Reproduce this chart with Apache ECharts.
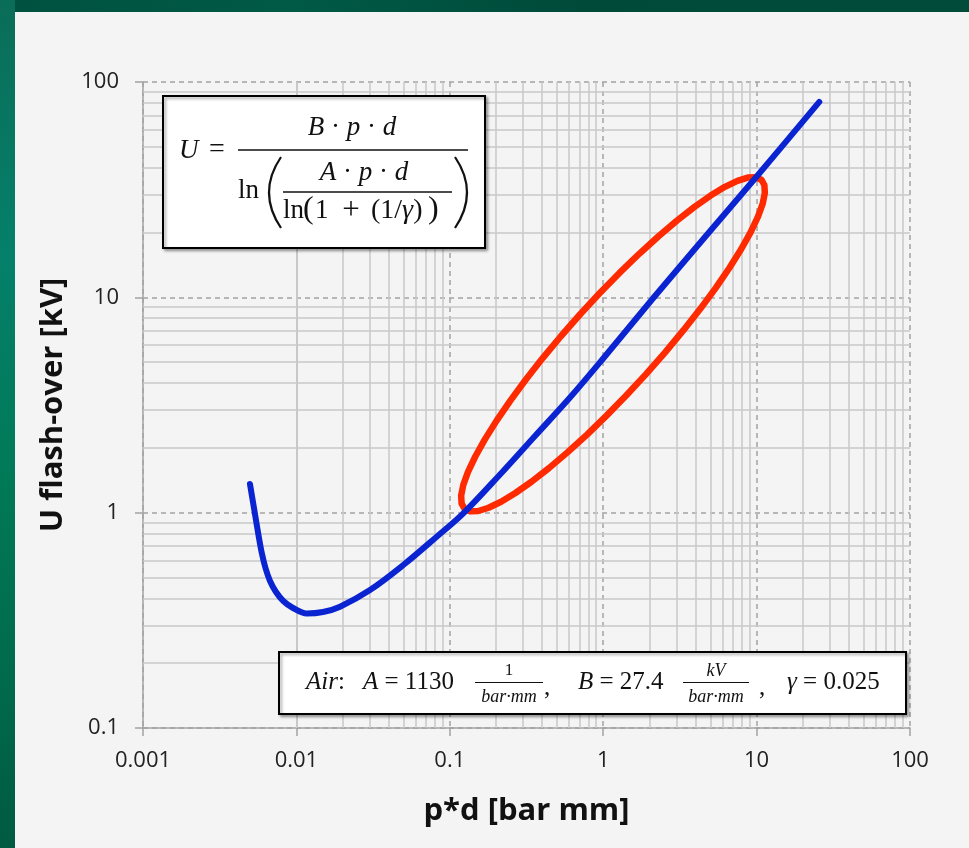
<!DOCTYPE html>
<html>
<head>
<meta charset="utf-8">
<title>Paschen curve for air</title>
<script src="https://cdn.jsdelivr.net/npm/echarts@6/dist/echarts.min.js"></script>
<style>
  html, body { margin: 0; padding: 0; width: 969px; height: 848px; overflow: hidden; background: #00553f; }
  #frameTop { position: absolute; left: 0; top: 0; width: 969px; height: 12px;
    background: linear-gradient(90deg, #00513f 0%, #005a46 30%, #004a3a 60%, #004b39 100%); }
  #frameLeft { position: absolute; left: 0; top: 0; width: 15px; height: 848px;
    background: linear-gradient(180deg, #0a6d58 0%, #05806a 30%, #007a58 55%, #006a4c 80%, #005a42 100%); }
  #panel { position: absolute; left: 15px; top: 12px; width: 954px; height: 836px; background: #f4f4f4; }
  #chart { position: absolute; left: 0; top: 0; width: 969px; height: 848px; }
</style>
</head>
<body>
<div id="frameTop"></div>
<div id="frameLeft"></div>
<div id="panel"></div>
<div id="chart"></div>
<script>
// Breakdown voltage of air versus p*d (Paschen curve)
const pdCurve = [0.004981, 0.005330, 0.005659, 0.005966, 0.006286, 0.006729, 0.007363, 0.008216,
                 0.009502, 0.011671, 0.014906, 0.019246, 0.03018, 0.04975, 0.08215, 0.12246,
                 0.2125, 0.3593, 0.6075, 1.0121, 2.121, 4.61, 10.21, 25.63];
const uCurve  = [1.359, 1.018, 0.7876, 0.6429, 0.5535, 0.4817, 0.4280, 0.3889,
                 0.3608, 0.3402, 0.3457, 0.3660, 0.4373, 0.5714, 0.7734, 0.9933,
                 1.504, 2.270, 3.426, 5.256, 9.93, 19.06, 37.0, 80.8];

// Highlighted region: a closed ring around the straight part of the curve
const pdRing = [0.7055, 0.9473, 1.2765, 1.7177, 2.2953, 3.0315, 3.938, 5.011, 6.216, 7.497,
                8.753, 9.875, 10.737, 11.238, 11.316, 10.959, 10.211, 9.168, 7.943, 6.659,
                5.419, 4.296, 3.328, 2.5338, 1.9021, 1.4170, 1.0513, 0.7814, 0.5846, 0.4429,
                0.3407, 0.2678, 0.2159, 0.1790, 0.15329, 0.1359, 0.12498, 0.1194, 0.11858, 0.12246,
                0.13143, 0.14638, 0.16891, 0.20145, 0.24753, 0.31242, 0.4032, 0.5297, 0.7055];
const uRing  = [8.324, 10.444, 12.98, 15.93, 19.22, 22.75, 26.32, 29.70, 32.60, 34.76,
                35.98, 36.13, 35.18, 33.24, 30.52, 27.24, 23.71, 20.14, 16.77, 13.727,
                11.072, 8.843, 7.018, 5.554, 4.401, 3.507, 2.822, 2.2995, 1.9051, 1.6104,
                1.3918, 1.2339, 1.1237, 1.0538, 1.0180, 1.0139, 1.0412, 1.1018, 1.2006, 1.3448,
                1.5460, 1.8186, 2.1838, 2.6687, 3.307, 4.143, 5.221, 6.596, 8.324];

// Decades of both log axes, and the sub-decade grid multipliers
const xDecades = [0.001, 0.01, 0.1, 1, 10];
const yDecades = [0.1, 1, 10];
const minorSteps = [2, 3, 4, 5, 6, 7, 8, 9];

const xTitle = 'p*d [bar mm]';
const yTitle = 'U flash-over [kV]';

const curveData = pdCurve.map((v, i) => [v, uCurve[i]]);
const ringData = pdRing.map((v, i) => [v, uRing[i]]);

const minorLines = [];
xDecades.forEach(d => minorSteps.forEach(m => minorLines.push({ xAxis: +(d * m).toPrecision(3) })));
yDecades.forEach(d => minorSteps.forEach(m => minorLines.push({ yAxis: +(d * m).toPrecision(3) })));

const serif = 'Liberation Serif';
const ink = '#111';

function mathText(x, y, text, size, align) {
  return {
    type: 'text', silent: true, z: 20,
    style: {
      x: x, y: y, text: text, fill: ink,
      fontFamily: serif, fontSize: size,
      align: align || 'left', verticalAlign: 'middle',
      rich: { i: { fontStyle: 'italic', fontFamily: serif, fontSize: size, fill: ink } }
    }
  };
}
function rule(x1, x2, y, w) {
  return { type: 'line', silent: true, z: 20, shape: { x1: x1, y1: y, x2: x2, y2: y },
           style: { stroke: ink, lineWidth: w || 1.4 } };
}
function paren(xEnd, xMid, yTop, yBot) {
  return { type: 'bezierCurve', silent: true, z: 20,
           shape: { x1: xEnd, y1: yTop, x2: xEnd, y2: yBot, cpx1: xMid, cpy1: (yTop + yBot) / 2 },
           style: { stroke: ink, lineWidth: 2.2, fill: null } };
}
function box(x, y, w, h) {
  return { type: 'rect', silent: true, z: 19, shape: { x: x, y: y, width: w, height: h },
           style: { fill: '#ffffff', stroke: '#000', lineWidth: 2,
                    shadowBlur: 3, shadowOffsetX: 2, shadowOffsetY: 2, shadowColor: 'rgba(0,0,0,0.35)' } };
}

const chart = echarts.init(document.getElementById('chart'), null, { renderer: 'canvas' });

const axisFont = { fontFamily: 'Open Sans', fontSize: 22, color: '#222' };
const titleFont = { fontFamily: 'Open Sans', fontWeight: 'bold', fontSize: 31, color: '#111' };

const option = {
  backgroundColor: 'transparent',
  animation: false,
  grid: { left: 143, right: 59, top: 82, bottom: 120, containLabel: false, outerBoundsMode: 'none' },
  xAxis: {
    type: 'log', logBase: 10, min: 0.001, max: 100,
    name: xTitle, nameLocation: 'middle', nameGap: 68, nameTextStyle: titleFont,
    axisLine: { show: true, onZero: false, lineStyle: { color: '#a3a3a3', width: 1.5 } },
    axisTick: { show: true, length: 8, lineStyle: { color: '#a3a3a3', width: 1.5 } },
    axisLabel: Object.assign({ margin: 22 }, axisFont),
    splitLine: { show: true, lineStyle: { color: '#a2a2a2', width: 1.5, type: [5, 4] } },
    minorTick: { show: false }, minorSplitLine: { show: false }
  },
  yAxis: {
    type: 'log', logBase: 10, min: 0.1, max: 100,
    name: yTitle, nameLocation: 'middle', nameGap: 74, nameTextStyle: titleFont,
    axisLine: { show: true, onZero: false, lineStyle: { color: '#a3a3a3', width: 1.5 } },
    axisTick: { show: true, length: 8, lineStyle: { color: '#a3a3a3', width: 1.5 } },
    axisLabel: Object.assign({ margin: 24 }, axisFont),
    splitLine: { show: true, lineStyle: { color: '#a2a2a2', width: 1.5, type: [5, 4] } },
    minorTick: { show: false }, minorSplitLine: { show: false }
  },
  series: [
    {
      name: 'grid', type: 'line', data: [], z: 1, silent: true,
      markLine: {
        z: 1, silent: true, symbol: ['none', 'none'], label: { show: false },
        emphasis: { disabled: true },
        lineStyle: { color: '#c9c9c9', width: 1.5, type: 'solid' },
        data: minorLines
      }
    },
    {
      name: 'ring', type: 'line', data: ringData, z: 3, smooth: false,
      symbol: 'none', silent: true,
      lineStyle: { color: '#ff2a00', width: 6.5, cap: 'round', join: 'round' }
    },
    {
      name: 'Paschen', type: 'line', data: curveData, z: 4, smooth: 0.35,
      symbol: 'none', silent: true,
      lineStyle: { color: '#0a24d2', width: 6, cap: 'round', join: 'round' }
    }
  ],
  graphic: [
    // formula box
    box(163, 96, 322, 152),
    mathText(179, 151, '{i|U}', 27),
    mathText(217, 150, '=', 28, 'center'),
    rule(238, 468, 150, 1.5),
    mathText(352, 128, '{i|B} · {i|p} · {i|d}', 27, 'center'),
    mathText(238, 191, 'ln', 27),
    paren(281, 257, 157, 228),
    rule(283, 452, 192, 1.4),
    mathText(364, 173, '{i|A} · {i|p} · {i|d}', 27, 'center'),
    mathText(283, 211, 'ln', 27),
    mathText(303, 210, '(', 32),
    mathText(315, 211, '1', 27),
    mathText(351, 211, '+', 31, 'center'),
    mathText(371, 211, '(1/{i|γ})', 28),
    mathText(428, 210, ')', 32),
    paren(455, 479, 157, 228),

    // gas constants box
    box(279, 652, 627, 62),
    mathText(306, 682, '{i|Air}:', 25),
    mathText(363, 682, '{i|A} = 1130', 25),
    mathText(509, 671, '1', 17, 'center'),
    rule(475, 543, 682.5, 1.2),
    mathText(509, 697, '{i|bar·mm}', 18, 'center'),
    mathText(544, 688, ',', 25),
    mathText(578, 682, '{i|B} = 27.4', 25),
    mathText(716, 671, '{i|kV}', 18, 'center'),
    rule(683, 749, 682.5, 1.2),
    mathText(716, 697, '{i|bar·mm}', 18, 'center'),
    mathText(759, 688, ',', 25),
    mathText(787, 682, '{i|γ} = 0.025', 25)
  ]
};

chart.setOption(option);
</script>
</body>
</html>
